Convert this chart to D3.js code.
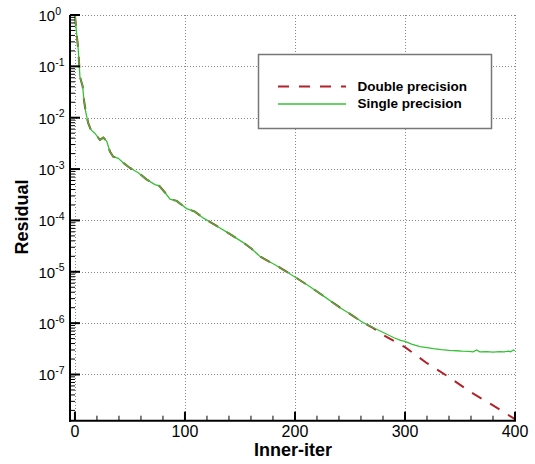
<!DOCTYPE html>
<html><head><meta charset="utf-8">
<script src="https://cdn.jsdelivr.net/npm/d3@7"></script>
<style>body{margin:0;background:#fff}svg{display:block;font-family:"Liberation Sans",Arial,sans-serif}</style>
</head><body><svg id="c" width="535" height="464"></svg>
<script>
const xTicks = [0, 100, 200, 300, 400];
const yExps = [0, -1, -2, -3, -4, -5, -6, -7];
const seriesNames = ["Double precision", "Single precision"];

const singleX = [0,1.5,3,3.9,4.5,7,8.2,10,12,14.3,18,22.7,25.8,28.8,31.8,34.8,39.4,44,50,57.6,65,72.7,76.7,81.8,86.4,92.4,101.5,109,116.6,128.8,141,153,160.6,168,185,198.5,212,225.8,241,252,262,270,277,284,290,296,300,306,313.6,320,325.8,333,340,347,352,358,362,365,368,374,380,386,390,394,396,398.5,400];
const singleY = [1.0,0.44,0.21,0.105,0.063,0.041,0.022,0.0123,0.0079,0.0059,0.0050,0.0037,0.0041,0.0035,0.0022,0.00174,0.00162,0.00132,0.00105,8.5e-4,6.3e-4,5.0e-4,4.7e-4,3.5e-4,2.6e-4,2.4e-4,1.7e-4,1.48e-4,1.12e-4,7.8e-5,5.4e-5,3.7e-5,2.8e-5,2.0e-5,1.25e-5,8.3e-6,5.4e-6,3.4e-6,2.0e-6,1.42e-6,1.02e-6,8.4e-7,7.1e-7,6.0e-7,5.2e-7,4.6e-7,4.4e-7,3.9e-7,3.5e-7,3.35e-7,3.2e-7,3.05e-7,2.95e-7,2.9e-7,2.85e-7,2.82e-7,2.75e-7,3.0e-7,2.75e-7,2.8e-7,2.72e-7,2.78e-7,2.75e-7,2.85e-7,2.78e-7,3.0e-7,2.9e-7];

const doubleX = [0,1.5,3,3.9,4.5,7,8.2,10,12,14.3,18,22.7,25.8,28.8,31.8,34.8,39.4,44,50,57.6,65,72.7,76.7,81.8,86.4,92.4,101.5,109,116.6,128.8,141,153,160.6,168,185,198.5,212,225.8,241,252,262,270,280,300,320,340,360,380,400];
const doubleY = [1.0,0.44,0.21,0.105,0.063,0.041,0.022,0.0123,0.0079,0.0059,0.0050,0.0037,0.0041,0.0035,0.0022,0.00174,0.00162,0.00132,0.00105,8.5e-4,6.3e-4,5.0e-4,4.7e-4,3.5e-4,2.6e-4,2.4e-4,1.7e-4,1.48e-4,1.12e-4,7.8e-5,5.4e-5,3.7e-5,2.8e-5,2.0e-5,1.25e-5,8.3e-6,5.4e-6,3.4e-6,2.0e-6,1.42e-6,1.02e-6,8.3e-7,5.9e-7,3.4e-7,1.66e-7,8.9e-8,4.5e-8,2.5e-8,1.35e-8];

const svg = d3.select("#c");
const L = 70, R = 515, T = 15, B = 420.7;
const x = d3.scaleLinear().domain([-4.5, 400]).range([L, R]);
const y = d3.scaleLog().domain([1.26e-8, 1]).range([B, T]);

svg.append("defs").append("clipPath").attr("id","clip").append("rect")
  .attr("x", L).attr("y", T - 1).attr("width", R - L + 2).attr("height", B - T + 1);

// grid
const grid = svg.append("g").attr("stroke","#888").attr("stroke-width",1).attr("stroke-dasharray","1,2");
grid.selectAll(".gx").data(xTicks).join("line")
  .attr("x1", d => Math.round(x(d)) + 0.5).attr("x2", d => Math.round(x(d)) + 0.5)
  .attr("y1", T).attr("y2", B);
grid.selectAll(".gy").data(yExps).join("line")
  .attr("y1", d => Math.round(y(Math.pow(10,d))) + 0.5).attr("y2", d => Math.round(y(Math.pow(10,d))) + 0.5)
  .attr("x1", L).attr("x2", R);

// lines
const line = (xs, ys) => d3.line().x((d,i) => x(xs[i])).y((d,i) => y(ys[i]))(xs);
const lg = svg.append("g").attr("clip-path","url(#clip)").attr("fill","none");
lg.append("path").attr("d", line(doubleX, doubleY)).attr("stroke","#b3222a").attr("stroke-width",2).attr("stroke-dasharray","11,10");
lg.append("path").attr("d", line(singleX, singleY)).attr("stroke","#36c236").attr("stroke-width",1.3);

// axes
const ax = svg.append("g");
const minorY = [];
for (let e = -8; e < 0; e++) for (let m = 2; m <= 9; m++) { const v = m * Math.pow(10, e); if (v >= 1.26e-8) minorY.push(v); }
ax.selectAll(".my").data(minorY).join("line")
  .attr("x1", L).attr("x2", L + 5).attr("y1", d => y(d)).attr("y2", d => y(d))
  .attr("stroke","#000").attr("stroke-width",1);
ax.selectAll(".My").data(yExps).join("line")
  .attr("x1", L).attr("x2", L + 10).attr("y1", d => y(Math.pow(10,d))).attr("y2", d => y(Math.pow(10,d)))
  .attr("stroke","#000").attr("stroke-width",2);
const minorX = d3.range(20, 400, 20).filter(v => v % 100 !== 0);
ax.selectAll(".mx").data(minorX).join("line")
  .attr("x1", d => x(d)).attr("x2", d => x(d)).attr("y1", B).attr("y2", B - 5)
  .attr("stroke","#000").attr("stroke-width",1);
ax.selectAll(".Mx").data(xTicks).join("line")
  .attr("x1", d => x(d)).attr("x2", d => x(d)).attr("y1", B).attr("y2", B - 9)
  .attr("stroke","#000").attr("stroke-width",2);
ax.append("line").attr("x1", L).attr("x2", L).attr("y1", T).attr("y2", B + 1).attr("stroke","#000").attr("stroke-width",2);
ax.append("line").attr("x1", L - 1).attr("x2", R + 1).attr("y1", B).attr("y2", B).attr("stroke","#000").attr("stroke-width",2);

// tick labels
svg.selectAll(".xl").data(xTicks).join("text")
  .attr("x", d => x(d)).attr("y", 437).attr("text-anchor","middle")
  .attr("font-size", 16).text(d => d);
const yl = svg.selectAll(".yl").data(yExps).join("text")
  .attr("x", 38.5).attr("y", d => y(Math.pow(10,d)) + 6).attr("font-size", 15);
yl.append("tspan").text("10");
yl.append("tspan").attr("dy", -6.5).attr("font-size", 10.5).text(d => d === 0 ? "0" : "-" + (-d));

// axis titles
svg.append("text").attr("x", 293).attr("y", 456).attr("text-anchor","middle")
  .attr("font-size", 18).attr("font-weight","bold").text("Inner-iter");
svg.append("text").attr("transform","translate(28,217) rotate(-90)").attr("text-anchor","middle")
  .attr("font-size", 18).attr("font-weight","bold").text("Residual");

// legend
const lgd = svg.append("g");
lgd.append("rect").attr("x", 258.5).attr("y", 54.5).attr("width", 233).attr("height", 74)
  .attr("fill","#fff").attr("stroke","#777").attr("stroke-width",1.5);
lgd.append("line").attr("x1", 278).attr("x2", 346).attr("y1", 86.5).attr("y2", 86.5)
  .attr("stroke","#b3222a").attr("stroke-width",2).attr("stroke-dasharray","11,10");
lgd.append("line").attr("x1", 278).attr("x2", 346).attr("y1", 104).attr("y2", 104)
  .attr("stroke","#36c236").attr("stroke-width",1.5);
lgd.selectAll(".lt").data(seriesNames).join("text")
  .attr("x", 357.5).attr("y", (d,i) => 91 + i * 16.5).attr("font-size", 13.5).attr("font-weight","bold").text(d => d);
</script></body></html>
